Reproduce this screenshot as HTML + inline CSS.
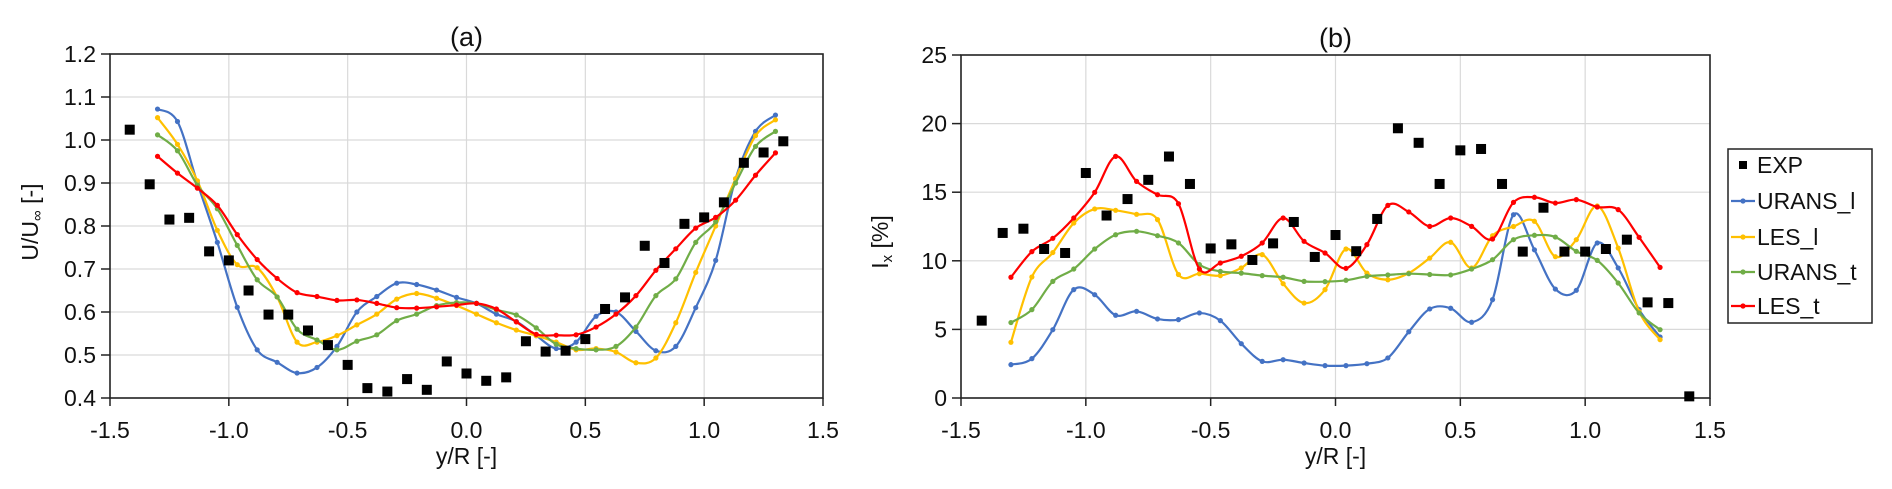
<!DOCTYPE html>
<html><head><meta charset="utf-8">
<style>
html,body{margin:0;padding:0;background:#fff;}
svg{display:block;font-family:"Liberation Sans",Arial,sans-serif;}
</style></head>
<body>
<svg id="chart" width="1892" height="489" viewBox="0 0 1892 489" xmlns="http://www.w3.org/2000/svg">
<g id="pa"></g>
<g id="pb"></g>
<g id="legend"></g>
</svg>
<script>
const lineX0 = -1.3, lineStep = 2.6/31;
const expXa = [-1.417,-1.333,-1.25,-1.167,-1.083,-1.0,-0.917,-0.833,-0.75,-0.667,-0.583,-0.5,-0.417,-0.333,-0.25,-0.167,-0.083,0,0.083,0.167,0.25,0.333,0.417,0.5,0.583,0.667,0.75,0.833,0.917,1.0,1.083,1.167,1.25,1.333];
const expA = [1.024,0.897,0.815,0.819,0.741,0.72,0.65,0.594,0.594,0.557,0.523,0.477,0.423,0.415,0.444,0.419,0.485,0.457,0.44,0.448,0.532,0.508,0.51,0.537,0.607,0.634,0.754,0.714,0.805,0.82,0.855,0.947,0.971,0.997];
const uransLA = [1.072,1.043,0.90,0.762,0.611,0.512,0.483,0.458,0.471,0.52,0.60,0.636,0.667,0.664,0.651,0.634,0.62,0.595,0.578,0.545,0.515,0.53,0.59,0.60,0.555,0.51,0.52,0.61,0.72,0.91,1.02,1.058];
const lesLA = [1.052,0.99,0.905,0.79,0.71,0.703,0.635,0.53,0.53,0.545,0.57,0.595,0.63,0.643,0.632,0.615,0.595,0.575,0.558,0.545,0.53,0.512,0.515,0.507,0.482,0.493,0.575,0.692,0.80,0.91,1.01,1.047];
const uransTA = [1.012,0.975,0.895,0.84,0.755,0.675,0.635,0.56,0.535,0.512,0.532,0.547,0.58,0.595,0.615,0.622,0.62,0.605,0.593,0.563,0.525,0.515,0.512,0.52,0.565,0.638,0.677,0.762,0.81,0.90,0.985,1.02];
const lesTA = [0.962,0.923,0.888,0.848,0.78,0.722,0.678,0.645,0.636,0.627,0.628,0.62,0.61,0.609,0.612,0.616,0.62,0.607,0.577,0.548,0.546,0.547,0.565,0.595,0.638,0.697,0.747,0.795,0.82,0.86,0.918,0.97];
const expXb = [-1.417,-1.333,-1.25,-1.167,-1.083,-1.0,-0.917,-0.833,-0.75,-0.667,-0.583,-0.5,-0.417,-0.333,-0.25,-0.167,-0.083,0,0.083,0.167,0.25,0.333,0.417,0.5,0.583,0.667,0.75,0.833,0.917,1.0,1.083,1.167,1.25,1.333,1.417];
const expB = [5.64,12.03,12.34,10.86,10.57,16.4,13.3,14.5,15.9,17.6,15.6,10.9,11.2,10.06,11.27,12.83,10.28,11.88,10.7,13.05,19.66,18.6,15.6,18.05,18.15,15.6,10.67,13.87,10.67,10.67,10.86,11.54,6.97,6.92,0.12];
const uransLB = [2.43,2.87,4.98,7.9,7.53,6.03,6.32,5.76,5.71,6.2,5.64,3.96,2.67,2.79,2.55,2.36,2.36,2.5,2.92,4.83,6.49,6.54,5.52,7.17,13.36,10.8,7.94,7.85,11.3,9.48,6.44,4.45];
const lesLB = [4.06,8.82,10.6,12.75,13.78,13.68,13.39,13.0,9.0,9.06,8.92,9.48,10.45,8.33,6.92,7.9,10.86,9.1,8.62,9.1,10.2,11.35,9.48,11.83,12.5,12.88,10.3,11.54,14.0,10.93,6.3,4.25];
const uransTB = [5.5,6.44,8.5,9.4,10.86,11.9,12.15,11.83,11.3,9.72,9.23,9.1,8.92,8.8,8.5,8.48,8.58,8.87,8.97,9.06,9.0,8.97,9.4,10.08,11.54,11.86,11.73,10.69,10.03,8.38,6.2,4.98];
const lesTB = [8.8,10.67,11.64,13.12,14.99,17.61,15.79,14.82,14.16,9.4,9.84,10.33,11.3,13.12,11.42,10.57,9.45,11.18,14.04,13.56,12.51,13.12,12.51,11.59,14.26,14.63,14.21,14.46,13.92,13.73,11.71,9.52];
const xTicks = ["-1.5","-1.0","-0.5","0.0","0.5","1.0","1.5"];
const yTicksA = ["0.4","0.5","0.6","0.7","0.8","0.9","1.0","1.1","1.2"];
const yTicksB = ["0","5","10","15","20","25"];
const seriesNames = ["URANS_l","LES_l","URANS_t","LES_t"];
const seriesColors = ["#4472C4","#FFC000","#70AD47","#FF0000"];

const NS="http://www.w3.org/2000/svg";
function mk(parent,tag,attrs,text){const e=document.createElementNS(NS,tag);for(const k in attrs)e.setAttribute(k,attrs[k]);if(text!==undefined)e.textContent=text;parent.appendChild(e);return e;}
function spline(pts){let d=`M${pts[0][0]},${pts[0][1]}`;for(let i=0;i<pts.length-1;i++){const p0=pts[i-1]||pts[i],p1=pts[i],p2=pts[i+1],p3=pts[i+2]||p2;const t=0.5/3*1.0;
const c1=[p1[0]+(p2[0]-p0[0])/6,p1[1]+(p2[1]-p0[1])/6],c2=[p2[0]-(p3[0]-p1[0])/6,p2[1]-(p3[1]-p1[1])/6];d+=` C${c1[0]},${c1[1]} ${c2[0]},${c2[1]} ${p2[0]},${p2[1]}`;}return d;}

function panel(g,cfg){
  const {L,R,T,B,ymin,ymax,yTicks,title,ylab,ylabX,ylabY,expX,exp,series}=cfg;
  const sx=v=>L+(v+1.5)/3*(R-L), sy=v=>B-(v-ymin)/(ymax-ymin)*(B-T);
  // grid
  yTicks.forEach(t=>{const y=sy(parseFloat(t));
    if(Math.abs(y-B)>1&&Math.abs(y-T)>1){const gl=mk(g,'line',{x1:L,x2:R,y1:y,y2:y,stroke:'#d9d9d9','stroke-width':1.2});
    
    }
    mk(g,'line',{x1:L-9,x2:L,y1:y,y2:y,stroke:'#222','stroke-width':1.5});
    const tl=mk(g,'text',{x:L-14,y:y+8,'text-anchor':'end','font-size':23,fill:'#111'},t);
    
    
  });
  xTicks.forEach(t=>{const x=sx(parseFloat(t));
    if(Math.abs(x-L)>1&&Math.abs(x-R)>1){const gl=mk(g,'line',{x1:x,x2:x,y1:T,y2:B,stroke:'#d9d9d9','stroke-width':1.2});
    
    }
    mk(g,'line',{x1:x,x2:x,y1:B,y2:B+8,stroke:'#222','stroke-width':1.5});
    const tl=mk(g,'text',{x:x,y:B+40,'text-anchor':'middle','font-size':23,fill:'#111'},t);
    
    
  });
  const fr=mk(g,'rect',{x:L,y:T,width:R-L,height:B-T,fill:'none',stroke:'#222','stroke-width':1.6});
  
  
  series.forEach((s,i)=>{
    const pts=s.map((v,k)=>[sx(lineX0+k*lineStep),sy(v)]);
    const sg=mk(g,'g',{});
    
    
    mk(sg,'path',{d:spline(pts),fill:'none',stroke:seriesColors[i],'stroke-width':2.2});
    pts.forEach(p=>{const c=mk(sg,'circle',{cx:p[0],cy:p[1],r:2.6,fill:seriesColors[i]});
      
      });
  });
  const eg=mk(g,'g',{});
  
  
  exp.forEach((v,k)=>{const r=mk(eg,'rect',{x:sx(expX[k])-5,y:sy(v)-5,width:10,height:10,fill:'#000'});
    
    });
  const tt=mk(g,'text',{x:(L+R)/2,y:T-8,'text-anchor':'middle','font-size':27,fill:'#111'},title);
  
  
  const xt=mk(g,'text',{x:(L+R)/2,y:B+66,'text-anchor':'middle','font-size':23,fill:'#111'},'y/R [-]');
  
  
  const yt=mk(g,'text',{x:0,y:0,transform:`translate(${ylabX},${ylabY}) rotate(-90)`,'text-anchor':'middle','font-size':23,fill:'#111'});
  
  
  ylab(yt);
}
panel(document.getElementById('pa'),{L:110,R:823,T:54,B:398,ymin:0.4,ymax:1.2,yTicks:yTicksA,title:'(a)',ylabX:38,ylabY:222,expX:expXa,exp:expA,series:[uransLA,lesLA,uransTA,lesTA],
  ylab:t=>{t.textContent='U/U';const s=mk(t,'tspan',{'font-size':15,dy:4},'∞');mk(t,'tspan',{dy:-4},' [-]');}});
panel(document.getElementById('pb'),{L:961,R:1710,T:55,B:398,ymin:0,ymax:25,yTicks:yTicksB,title:'(b)',ylabX:888,ylabY:242,expX:expXb,exp:expB,series:[uransLB,lesLB,uransTB,lesTB],
  ylab:t=>{t.textContent='I';mk(t,'tspan',{'font-size':15,dy:4},'x');mk(t,'tspan',{dy:-4},' [%]');}});

const lg=document.getElementById('legend');
mk(lg,'rect',{x:1728,y:149,width:144,height:174,fill:'#fff',stroke:'#222','stroke-width':1.5});
const ly=[165,201,237,272,306];
const le0=mk(lg,'g',{});


mk(le0,'rect',{x:1739,y:ly[0]-4,width:8,height:8,fill:'#000'});
mk(le0,'text',{x:1757,y:ly[0]+8,'font-size':23,fill:'#111'},'EXP');
seriesNames.forEach((n,i)=>{const y=ly[i+1];
  const e=mk(lg,'g',{});
  
  
  mk(e,'line',{x1:1731,x2:1755,y1:y,y2:y,stroke:seriesColors[i],'stroke-width':2.2});
  mk(e,'circle',{cx:1743,cy:y,r:2.6,fill:seriesColors[i]});
  mk(e,'text',{x:1757,y:y+8,'font-size':23,fill:'#111'},n);
});
</script>
</body></html>
